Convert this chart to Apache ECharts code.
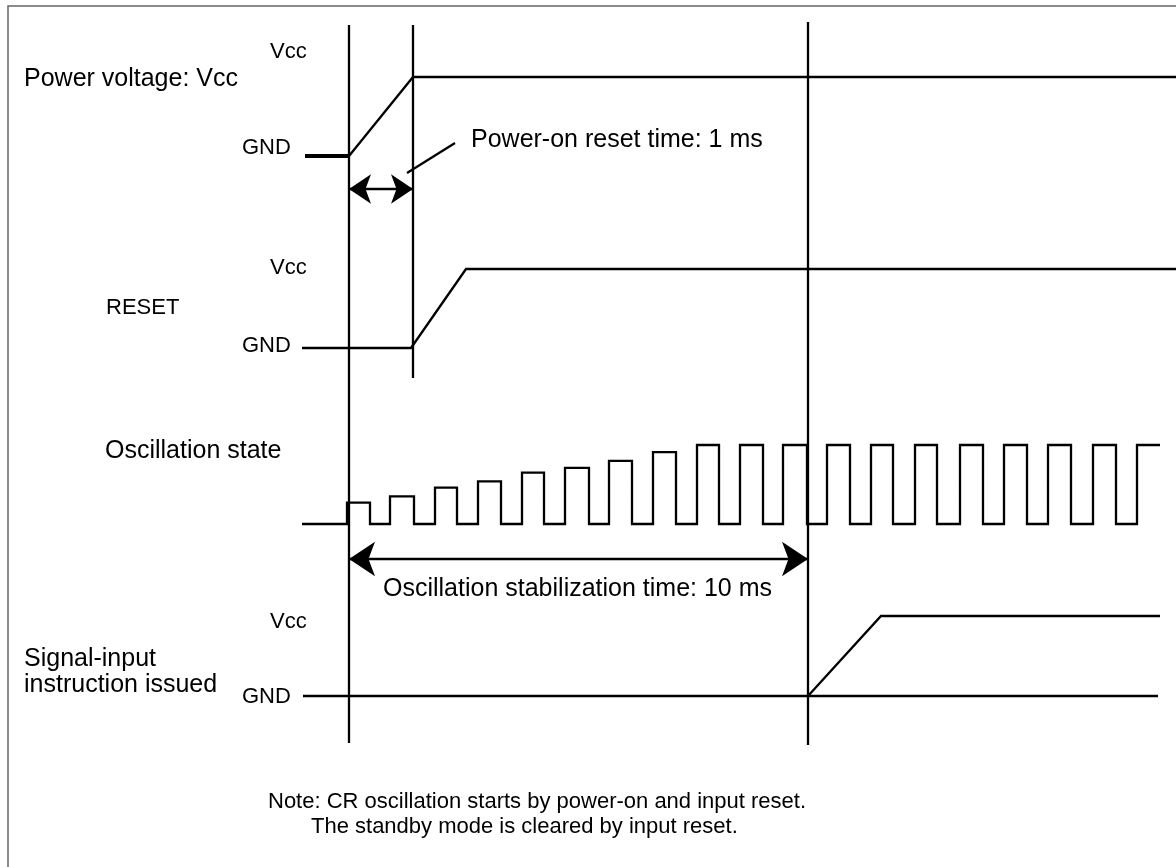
<!DOCTYPE html>
<html lang="en">
<head>
    <meta charset="UTF-8">
    <title>Reset timing</title>
    <script src="https://cdn.jsdelivr.net/npm/echarts@6/dist/echarts.min.js"></script>
    <style>
        html, body {
            margin: 0;
            padding: 0;
            background: #fff;
        }

        #main {
            width: 1176px;
            height: 867px;
        }
    </style>
</head>
<body>
<div id="main"></div>
<script>
    // time runs along x in diagram units (not to scale), levels are 0 = GND, 1 = Vcc
    var timeRange = [0, 1176];

    // power voltage: Vcc
    var powerGnd = [[305, 0], [349, 0]];
    var powerRamp = [[349, 0], [413, 1], [1176, 1]];

    // RESET
    var resetWave = [[302, 0], [411, 0], [466, 1], [1176, 1]];

    // oscillation: rising / falling edges and height of each pulse
    var oscStart = 302;
    var oscRise = [347, 390, 435, 478, 522, 565, 609, 653, 697, 740, 783, 827, 871, 915, 960, 1004, 1048, 1093, 1137];
    var oscFall = [370, 414, 457, 501, 544, 589, 632, 676, 719, 763, 807, 850, 893, 937, 983, 1027, 1071, 1116, 1160];
    var oscAmp = [0.27, 0.35, 0.46, 0.54, 0.65, 0.71, 0.80, 0.91, 1, 1, 1, 1, 1, 1, 1, 1, 1, 1, 1];

    // signal-input instruction issued
    var signalGnd = [[303, 0], [1158, 0]];
    var signalRamp = [[808, 0], [881, 1], [1160, 1]];

    // event markers (x) and their vertical extent on the page
    var markerTimes = [349, 413, 808];
    var markerSpans = [[25, 743], [25, 378], [22, 745]];

    // dimension arrows and leader
    var resetArrow = [[349, 189], [413, 189]];
    var stabArrow = [[349, 559], [808, 559]];
    var leader = [[407, 173], [455, 143]];

    // lanes: pixel row of Vcc and GND
    var lanes = [
        {vcc: 77, gnd: 156},
        {vcc: 269, gnd: 348},
        {vcc: 445, gnd: 524},
        {vcc: 616, gnd: 696}
    ];

    var labels = [
        {t: 'Vcc', k: 'lvl', x: 270, y: 52},
        {t: 'Power voltage: Vcc', k: 'name', x: 24, y: 79},
        {t: 'GND', k: 'lvl', x: 242, y: 148},
        {t: 'Power-on reset time: 1 ms', k: 'name', x: 471, y: 140},
        {t: 'Vcc', k: 'lvl', x: 270, y: 268},
        {t: 'RESET', k: 'lvl', x: 106, y: 308},
        {t: 'GND', k: 'lvl', x: 242, y: 346},
        {t: 'Oscillation state', k: 'name', x: 105, y: 451},
        {t: 'Oscillation stabilization time: 10 ms', k: 'name', x: 383, y: 589},
        {t: 'Vcc', k: 'lvl', x: 270, y: 622},
        {t: 'Signal-input', k: 'name', x: 24, y: 659},
        {t: 'instruction issued', k: 'name', x: 24, y: 685},
        {t: 'GND', k: 'lvl', x: 242, y: 697},
        {t: 'Note: CR oscillation starts by power-on and input reset.', k: 'note', x: 268, y: 802},
        {t: 'The standby mode is cleared by input reset.', k: 'note', x: 311, y: 827}
    ];
    var fontSizes = {lvl: 22, name: 25, note: 22};

    var FONT = '"Liberation Sans", Arial, sans-serif';

    function oscPoints() {
        var pts = [[oscStart, 0]];
        for (var i = 0; i < oscRise.length; i++) {
            pts.push([oscRise[i], 0]);
            pts.push([oscRise[i], oscAmp[i]]);
            pts.push([oscFall[i], oscAmp[i]]);
            if (i < oscRise.length - 1) pts.push([oscFall[i], 0]);
        }
        return pts;
    }

    var grids = [{left: 0, top: 0, width: 1176, height: 867}];
    var xAxes = [{type: 'value', gridIndex: 0, min: timeRange[0], max: timeRange[1], show: false}];
    var yAxes = [{type: 'value', gridIndex: 0, min: 0, max: 867, inverse: true, show: false}];
    lanes.forEach(function (l, i) {
        grids.push({left: 0, top: l.vcc, width: 1176, height: l.gnd - l.vcc});
        xAxes.push({type: 'value', gridIndex: i + 1, min: timeRange[0], max: timeRange[1], show: false});
        yAxes.push({type: 'value', gridIndex: i + 1, min: 0, max: 1, show: false});
    });

    function wave(lane, data, width) {
        return {
            type: 'line', xAxisIndex: lane + 1, yAxisIndex: lane + 1, data: data,
            symbol: 'none', clip: false, silent: true,
            lineStyle: {color: '#000', width: width || 2.3, join: 'miter', cap: 'butt'}
        };
    }

    function seg(data, width) {
        return {
            type: 'line', xAxisIndex: 0, yAxisIndex: 0, data: data,
            symbol: 'none', clip: false, silent: true,
            lineStyle: {color: '#000', width: width || 2.3}
        };
    }

    function arrow(data, size) {
        return {
            type: 'lines', coordinateSystem: 'cartesian2d', xAxisIndex: 0, yAxisIndex: 0,
            symbol: ['arrow', 'arrow'], symbolSize: size, silent: true,
            lineStyle: {color: '#000', width: 2.3, opacity: 1},
            data: [{coords: data}]
        };
    }

    var series = [
        wave(0, powerGnd, 4),
        wave(0, powerRamp),
        wave(1, resetWave),
        wave(2, oscPoints()),
        wave(3, signalGnd),
        wave(3, signalRamp),
        seg(leader),
        arrow(resetArrow, 22),
        arrow(stabArrow, 26)
    ];
    markerTimes.forEach(function (t, i) {
        series.push(seg([[t, markerSpans[i][0]], [t, markerSpans[i][1]]]));
    });

    var graphic = [{
        type: 'rect', silent: true,
        shape: {x: 8, y: 6, width: 1300, height: 1000},
        style: {fill: 'none', stroke: '#666', lineWidth: 1.5}
    }];
    labels.forEach(function (l) {
        graphic.push({
            type: 'text', x: l.x, y: l.y, silent: true,
            style: {
                text: l.t, fill: '#000', font: fontSizes[l.k] + 'px ' + FONT,
                verticalAlign: 'middle', align: 'left'
            }
        });
    });

    var myChart = echarts.init(document.getElementById('main'));
    myChart.setOption({
        animation: false,
        backgroundColor: '#fff',
        grid: grids,
        xAxis: xAxes,
        yAxis: yAxes,
        series: series,
        graphic: graphic
    });
</script>
</body>
</html>
